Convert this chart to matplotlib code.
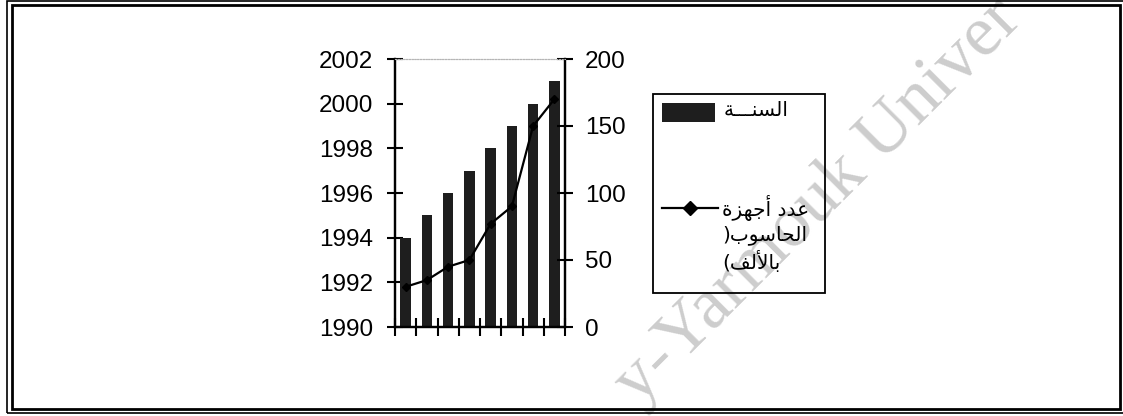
import matplotlib
matplotlib.use("Agg")
import matplotlib.pyplot as plt
import numpy as np
from matplotlib.lines import Line2D
from matplotlib.patches import Rectangle

# ---- data ----
positions = [1, 2, 3, 4, 5, 6, 7, 8]
years = [1994, 1995, 1996, 1997, 1998, 1999, 2000, 2001]
computers_k = [30, 35, 45, 50, 77, 90, 150, 170]
left_ticks = [1990, 1992, 1994, 1996, 1998, 2000, 2002]
right_ticks = [0, 50, 100, 150, 200]

# Arabic labels (presentation forms, visual order)
label_year = "\uFE94\u0640\u0640\u0640\uFEE8\uFEB4\uFEDF\uFE8D"          # السنـــة
label_line1 = "\uFE93\uFEB0\uFEEC\uFE9F\uFE83 \uFEA9\uFEAA\uFECB"       # عدد أجهزة
label_line2 = ")\uFE8F\uFEEE\uFEB3\uFE8E\uFEA4\uFEDF\uFE8D"              # الحاسوب(
label_line3 = "(\uFED2\uFEDF\uFEF7\uFE8E\uFE91"                          # بالألف)
watermark = "y-Yarmouk Univer"

W, H = 1123, 416
fig = plt.figure(figsize=(W / 100, H / 100), dpi=100)
fig.patch.set_facecolor("white")


def fx(x):
    return x / W


def fy(y):
    return 1 - y / H


# watermark (faint, diagonal)
fig.text(fx(638), fy(406), watermark, color="#cdcdcd", fontsize=52,
         family="Liberation Serif", rotation=45, rotation_mode="anchor",
         ha="left", va="baseline", zorder=0.5)

ax = fig.add_axes([fx(395), fy(327), fx(565) - fx(395), fy(59) - fy(327)])
ax.set_facecolor("none")
ax.bar(positions, np.array(years) - 1990, bottom=1990, width=0.5,
       color="#1e1e1e", edgecolor="none", zorder=2)
ax.set_xlim(0.5, 8.5)
ax.set_ylim(1990, 2002)
ax.set_yticks(left_ticks)
ax.set_xticks(np.arange(0.5, 9.0, 1.0))
ax.set_xticklabels([])

ax2 = ax.twinx()
ax2.plot(positions, computers_k, color="black", lw=1.6, marker="D",
         markersize=4.5, zorder=3)
ax2.set_ylim(0, 200)
ax2.set_yticks(right_ticks)

for a in (ax, ax2):
    for s in a.spines.values():
        s.set_linewidth(1.6)
        s.set_color("black")
    a.spines["top"].set_color("#b5b5b5")
    a.spines["top"].set_linewidth(0.8)
    a.spines["top"].set_linestyle((0, (1, 1.5)))

ax.tick_params(axis="y", direction="inout", length=11.5, width=1.5,
               labelsize=17.5, pad=10)
ax.tick_params(axis="x", direction="inout", length=13, width=1.5)
ax2.tick_params(axis="y", direction="inout", length=11.5, width=1.5,
                labelsize=17.5, pad=8.5)
for lab in ax.get_yticklabels() + ax2.get_yticklabels():
    lab.set_family("Liberation Sans")

# legend (drawn manually)
fig.add_artist(Rectangle((fx(653), fy(293)), fx(825) - fx(653), fy(94) - fy(293),
                         transform=fig.transFigure, fill=False,
                         edgecolor="black", lw=1.3, zorder=3))
fig.add_artist(Rectangle((fx(662), fy(122)), fx(715) - fx(662), fy(103) - fy(122),
                         transform=fig.transFigure, facecolor="#1e1e1e",
                         edgecolor="none", zorder=3))
fig.add_artist(Line2D([fx(662), fx(718)], [fy(208), fy(208)],
                      transform=fig.transFigure, color="black", lw=1.6, zorder=3))
fig.add_artist(Line2D([fx(690)], [fy(208)], transform=fig.transFigure,
                      color="black", marker="D", markersize=7, zorder=3))
txt_kw = dict(family="DejaVu Sans", fontsize=14.5, color="black", ha="left",
              va="center", zorder=4)
fig.text(fx(724), fy(111), label_year, **txt_kw)
fig.text(fx(722), fy(208), label_line1, **txt_kw)
fig.text(fx(722), fy(235), label_line2, **txt_kw)
fig.text(fx(722), fy(262), label_line3, **txt_kw)

# double page frame
fig.add_artist(Rectangle((fx(7), fy(413)), fx(1125) - fx(7), fy(1) - fy(413),
                         transform=fig.transFigure, fill=False,
                         edgecolor="black", lw=1.2, zorder=5))
fig.add_artist(Rectangle((fx(12), fy(409)), fx(1120) - fx(12), fy(5) - fy(409),
                         transform=fig.transFigure, fill=False,
                         edgecolor="black", lw=2.0, zorder=5))

fig.savefig("out.png", dpi=100)
